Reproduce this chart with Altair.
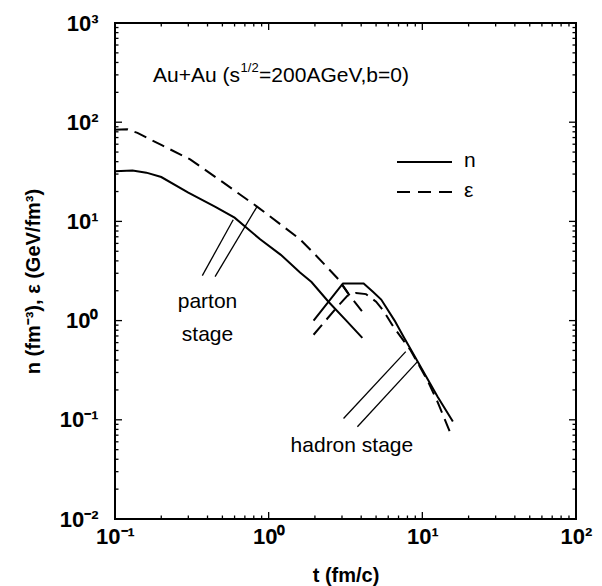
import altair as alt
import pandas as pd

# ---------------- data ----------------
# solid curve n, parton stage
n_parton_t = [0.1, 0.13, 0.16, 0.2, 0.3, 0.45, 0.6, 0.88, 1.2, 1.6, 1.9, 2.45, 3.2, 4.07]
n_parton_v = [32, 32.5, 31, 28, 19.5, 14, 10.9, 6.6, 4.6, 3.05, 2.45, 1.55, 1.0, 0.67]
# dashed curve epsilon, parton stage
e_parton_t = [0.1, 0.12, 0.14, 0.2, 0.31, 0.5, 0.84, 1.0, 1.6, 2.0, 2.85, 3.4, 4.07]
e_parton_v = [84, 85, 78, 59, 42, 25, 14.1, 11.5, 6.6, 4.66, 2.6, 1.75, 1.23]
# solid curve n, hadron stage (drawn in this order)
n_hadron_t = [1.96, 3.0, 3.3, 3.0, 3.05, 4.15, 4.75, 5.4, 6.6, 7.5, 9.3, 12.6, 15.8]
n_hadron_v = [1.0, 2.3, 1.87, 2.3, 2.36, 2.36, 1.96, 1.63, 1.0, 0.7, 0.39, 0.17, 0.096]
# dashed curve epsilon, hadron stage
e_hadron_t = [1.96, 2.8, 3.25, 3.7, 4.3, 5.0, 5.6, 6.5, 8.4, 10.8, 12.6, 15.3]
e_hadron_v = [0.72, 1.38, 1.78, 1.9, 1.85, 1.55, 1.25, 0.86, 0.5, 0.25, 0.15, 0.072]

# pointer lines (start t, start v, end t, end v)
ptr_t1 = [0.37, 0.448, 3.07, 3.78]
ptr_v1 = [2.84, 2.78, 0.103, 0.085]
ptr_t2 = [0.588, 0.84, 7.8, 9.3]
ptr_v2 = [10.4, 14.1, 0.487, 0.386]

# annotation texts
note_text = ["parton", "stage", "hadron stage"]
note_t = [0.40, 0.40, 3.48]
note_v = [1.55, 0.72, 0.054]
title_t = [0.177]
title_v = [295]

# axes
x_major = [0.1, 1, 10, 100]
y_major = [0.01, 0.1, 1, 10, 100, 1000]
minor_mult = [2, 3, 4, 5, 6, 7, 8, 9]
x_labels = ["10\u207b\u00b9", "10\u2070", "10\u00b9", "10\u00b2"]
y_labels = ["10\u207b\u00b2", "10\u207b\u00b9", "10\u2070", "10\u00b9", "10\u00b2", "10\u00b3"]

legend_names = ["n", "\u03b5"]

W, H = 461, 496
FONT = "Liberation Sans"

# ---------------- build tables ----------------
def frame(t, v, qty, seg):
    return pd.DataFrame({"t": t, "v": v, "qty": qty, "seg": seg, "i": list(range(len(t)))})

curves = pd.concat([
    frame(n_parton_t, n_parton_v, "n", "n_parton"),
    frame(n_hadron_t, n_hadron_v, "n", "n_hadron"),
    frame(e_parton_t, e_parton_v, "e", "e_parton"),
    frame(e_hadron_t, e_hadron_v, "e", "e_hadron"),
], ignore_index=True)

ptrs = pd.DataFrame({"t1": ptr_t1, "v1": ptr_v1, "t2": ptr_t2, "v2": ptr_v2})
notes = pd.DataFrame({"txt": note_text, "t": note_t, "v": note_v})
ttl = pd.DataFrame({"t": title_t, "v": title_v})

x_minor = [m * d for d in x_major[:-1] for m in minor_mult]
y_minor = [m * d for d in y_major[:-1] for m in minor_mult]
xt_major = pd.DataFrame({"t": x_major})
xt_minor = pd.DataFrame({"t": x_minor})
yt_major = pd.DataFrame({"v": y_major})
yt_minor = pd.DataFrame({"v": y_minor})

def label_expr(vals, labels):
    expr = "''"
    for val, lab in zip(vals, labels):
        expr = f"(abs(log(datum.value) - log({val})) < 0.01) ? '{lab}' : " + expr
    return expr

xs = alt.Scale(type="log", domain=[0.1, 100], nice=False)
ys = alt.Scale(type="log", domain=[0.01, 1000], nice=False)

x_axis = alt.Axis(
    values=x_major, labelExpr=label_expr(x_major, x_labels),
    ticks=False, tickSize=0, domain=False, grid=False,
    labelFont=FONT, labelFontWeight="bold", labelFontSize=22, labelColor="black",
    labelPadding=7, labelFlush=False, labelOverlap=False,
    title="t (fm/c)", titleFont=FONT, titleFontSize=20, titleFontWeight="bold",
    titleColor="black", titleX=W / 2, titleY=56, titleBaseline="middle",
)
y_axis = alt.Axis(
    values=y_major, labelExpr=label_expr(y_major, y_labels),
    ticks=False, tickSize=0, domain=False, grid=False,
    labelFont=FONT, labelFontWeight="bold", labelFontSize=22, labelColor="black",
    labelPadding=17, labelFlush=False, labelOverlap=False,
    title="n (fm\u207b\u00b3), \u03b5 (GeV/fm\u00b3)", titleFont=FONT, titleFontSize=20,
    titleFontWeight="bold", titleColor="black", titleX=-82, titleY=258,
    titleBaseline="middle", titleAngle=270,
)

X = alt.X("t:Q", scale=xs, axis=x_axis)
Y = alt.Y("v:Q", scale=ys, axis=y_axis)

solid = alt.Chart(curves[curves.qty == "n"]).mark_line(
    color="black", strokeWidth=2).encode(x=X, y=Y, detail="seg:N", order="i:Q")
dashed = alt.Chart(curves[curves.qty == "e"]).mark_line(
    color="black", strokeWidth=2, strokeDash=[13, 7]).encode(
    x=X, y=Y, detail="seg:N", order="i:Q")

pointers = alt.Chart(ptrs).mark_rule(color="black", strokeWidth=1.3).encode(
    x=alt.X("t1:Q", scale=xs, axis=x_axis), y=alt.Y("v1:Q", scale=ys, axis=y_axis),
    x2="t2:Q", y2="v2:Q")

note_layer = alt.Chart(notes).mark_text(
    font=FONT, fontSize=21, color="black", align="center", baseline="middle").encode(
    x=X, y=Y, text="txt:N")

t_main = alt.Chart(ttl).mark_text(
    font=FONT, fontSize=21, color="black", align="left", baseline="middle",
    text="Au+Au (s").encode(x=X, y=Y)
t_sup = alt.Chart(ttl).mark_text(
    font=FONT, fontSize=13, color="black", align="left", baseline="middle",
    text="1/2", dx=87.5, dy=-8).encode(x=X, y=Y)
t_rest = alt.Chart(ttl).mark_text(
    font=FONT, fontSize=21, color="black", align="left", baseline="middle",
    text="=200AGeV,b=0)", dx=106).encode(x=X, y=Y)

# inward tick marks on all four sides
def xticks(df, length):
    bottom = alt.Chart(df).mark_rule(color="black", strokeWidth=1.3).encode(
        x=X, y=alt.value(H), y2=alt.value(H - length))
    top = alt.Chart(df).mark_rule(color="black", strokeWidth=1.3).encode(
        x=X, y=alt.value(0), y2=alt.value(length))
    return [bottom, top]

def yticks(df, length):
    left = alt.Chart(df).mark_rule(color="black", strokeWidth=1.3).encode(
        y=Y, x=alt.value(0), x2=alt.value(length))
    right = alt.Chart(df).mark_rule(color="black", strokeWidth=1.3).encode(
        y=Y, x=alt.value(W), x2=alt.value(W - length))
    return [left, right]

tick_layers = xticks(xt_major, 7) + xticks(xt_minor, 3.5) + yticks(yt_major, 7) + yticks(yt_minor, 3.5)

# legend (drawn by hand)
leg = pd.DataFrame({"name": legend_names})
leg_n_line = alt.Chart(leg.iloc[[0]]).mark_rule(color="black", strokeWidth=2).encode(
    x=alt.value(282), x2=alt.value(337), y=alt.value(139))
leg_e_line = alt.Chart(leg.iloc[[1]]).mark_rule(
    color="black", strokeWidth=2, strokeDash=[13, 8]).encode(
    x=alt.value(282), x2=alt.value(337), y=alt.value(169))
leg_n_txt = alt.Chart(leg.iloc[[0]]).mark_text(
    font=FONT, fontSize=21, color="black", align="left", baseline="middle").encode(
    x=alt.value(349), y=alt.value(138), text="name:N")
leg_e_txt = alt.Chart(leg.iloc[[1]]).mark_text(
    font=FONT, fontSize=21, color="black", align="left", baseline="middle").encode(
    x=alt.value(349), y=alt.value(168), text="name:N")

chart = alt.layer(
    solid, dashed, pointers, note_layer, t_main, t_sup, t_rest,
    *tick_layers, leg_n_line, leg_e_line, leg_n_txt, leg_e_txt,
).properties(
    width=W, height=H,
    autosize=alt.AutoSizeParams(type="none"),
    padding={"left": 107, "top": 15, "right": 18, "bottom": 75},
    background="white",
).configure_view(stroke="black", strokeWidth=2)

chart.save("out.html", embed_options={"renderer": "svg", "actions": False})
